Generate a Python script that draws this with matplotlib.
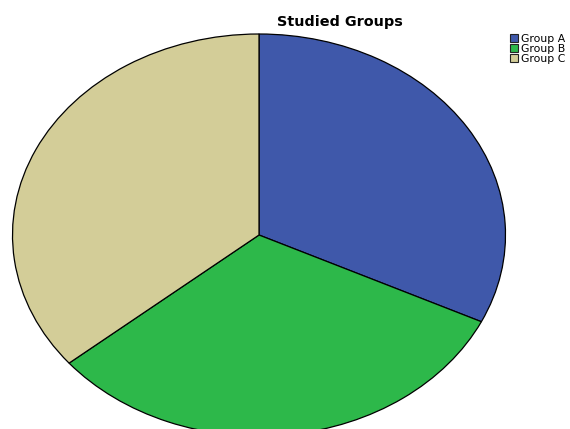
import matplotlib
matplotlib.use("Agg")
import matplotlib.pyplot as plt

plt.rcParams['font.family'] = ['DejaVu Sans']

groups = ["Group A", "Group B", "Group C"]
shares = [32.1, 31.9, 36.0]
colors = ["#3F58AA", "#2DB84A", "#D3CD98"]

W, H = 570, 429
fig = plt.figure(figsize=(W / 100, H / 100), dpi=100)

# ellipse bounding box in pixels (left, top, right, bottom)
x0, y0, x1, y1 = 12.5, 34, 505.5, 436
ax = fig.add_axes([x0 / W, (H - y1) / H, (x1 - x0) / W, (y1 - y0) / H])
wedges, _ = ax.pie(shares, colors=colors, startangle=90, counterclock=False,
                   radius=1.0,
                   wedgeprops=dict(edgecolor="black", linewidth=0.9))
ax.set_aspect('auto')
ax.set_xlim(-1, 1)
ax.set_ylim(-1, 1)
ax.axis('off')

fig.text(340 / W, 1 - 22 / H, "Studied Groups", ha="center", va="center",
         fontsize=10.4, fontweight="bold")

leg = fig.legend(wedges, groups, loc="upper left",
                 bbox_to_anchor=(509.5 / W, 1 - 34 / H),
                 frameon=False, fontsize=7.8, labelspacing=-0.02,
                 handlelength=0.75, handleheight=0.75, handletextpad=0.35,
                 borderpad=0, borderaxespad=0)
for h in leg.legend_handles:
    h.set_edgecolor("#222222")
    h.set_linewidth(0.8)

fig.savefig("out.png", dpi=100)
